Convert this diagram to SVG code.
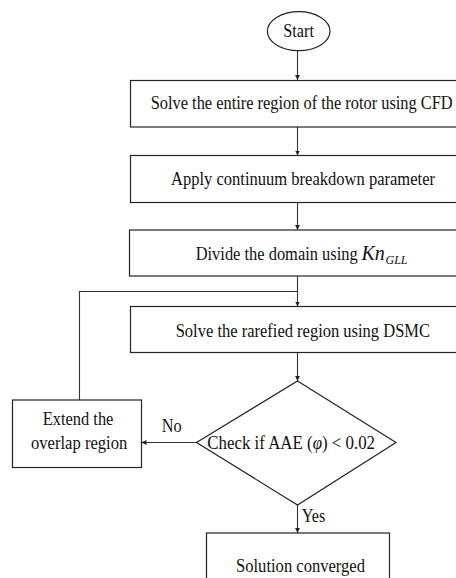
<svg xmlns="http://www.w3.org/2000/svg" width="456" height="578" viewBox="0 0 456 578">
<defs>
<marker id="ah" markerUnits="userSpaceOnUse" markerWidth="6" markerHeight="6" refX="5" refY="3" orient="auto">
<path d="M0,0.6 L5,3 L0,5.4 Z" fill="#222"/>
</marker>
<style>
.s{fill:#fff;stroke:#222;stroke-width:1.2}
.c{fill:none;stroke:#333;stroke-width:1.1}
.t{font-family:"Liberation Serif","Times New Roman",serif;font-size:19px;fill:#111}
.i{font-style:italic}
</style>
</defs>
<rect width="456" height="578" fill="#fff"/>
<g id="connectors">
<line class="c" x1="297.5" y1="50.5" x2="297.5" y2="80" marker-end="url(#ah)"/>
<line class="c" x1="297.5" y1="127" x2="297.5" y2="155.5" marker-end="url(#ah)"/>
<line class="c" x1="297.5" y1="202.5" x2="297.5" y2="230" marker-end="url(#ah)"/>
<line class="c" x1="297.5" y1="276" x2="297.5" y2="306.5" marker-end="url(#ah)"/>
<polyline class="c" points="79.5,400 79.5,291.5 297.5,291.5"/>
<line class="c" x1="297.5" y1="352.5" x2="297.5" y2="381" marker-end="url(#ah)"/>
<line class="c" x1="196.5" y1="442.5" x2="141.5" y2="442.5" marker-end="url(#ah)"/>
<line class="c" x1="297.5" y1="505" x2="297.5" y2="533" marker-end="url(#ah)"/>
<text class="t" x="161.7" y="432" textLength="20" lengthAdjust="spacingAndGlyphs">No</text>
<text class="t" x="301.7" y="522" textLength="23.5" lengthAdjust="spacingAndGlyphs">Yes</text>
</g>
<g id="start">
<ellipse class="s" cx="298.7" cy="31.2" rx="31.3" ry="19.5"/>
<text class="t" x="283.3" y="36.8" textLength="30.7" lengthAdjust="spacingAndGlyphs">Start</text>
</g>
<g id="solve-cfd">
<rect class="s" x="130.5" y="80.5" width="345" height="46.5"/>
<text class="t" x="150.7" y="109" textLength="302" lengthAdjust="spacingAndGlyphs">Solve the entire region of the rotor using CFD</text>
</g>
<g id="apply-breakdown">
<rect class="s" x="130.5" y="155.5" width="345" height="47"/>
<text class="t" x="171" y="185" textLength="264" lengthAdjust="spacingAndGlyphs">Apply continuum breakdown parameter</text>
</g>
<g id="divide-domain">
<rect class="s" x="129.5" y="230" width="346" height="46"/>
<text class="t" x="195.7" y="259.5"><tspan textLength="162" lengthAdjust="spacingAndGlyphs">Divide the domain using</tspan><tspan class="i" x="361.5" style="font-size:20px">Kn</tspan><tspan class="i" x="385.5" dy="4" style="font-size:12px">GLL</tspan></text>
</g>
<g id="solve-dsmc">
<rect class="s" x="130.5" y="306.5" width="345" height="46"/>
<text class="t" x="175.7" y="337" textLength="254.3" lengthAdjust="spacingAndGlyphs">Solve the rarefied region using DSMC</text>
</g>
<g id="check">
<polygon class="s" points="297.5,381 396,442.5 297.5,505 196.5,442.5"/>
<text class="t" x="207.3" y="448.5" textLength="167.7" lengthAdjust="spacingAndGlyphs">Check if AAE (<tspan class="i">φ</tspan>) &lt; 0.02</text>
</g>
<g id="extend-overlap">
<rect class="s" x="12.5" y="400" width="129" height="67.5"/>
<text class="t" x="42.7" y="425" textLength="70.7" lengthAdjust="spacingAndGlyphs">Extend the</text>
<text class="t" x="31" y="449" textLength="96.3" lengthAdjust="spacingAndGlyphs">overlap region</text>
</g>
<g id="converged">
<rect class="s" x="206.5" y="533" width="183" height="60"/>
<text class="t" x="236" y="572" textLength="129" lengthAdjust="spacingAndGlyphs">Solution converged</text>
</g>
</svg>
